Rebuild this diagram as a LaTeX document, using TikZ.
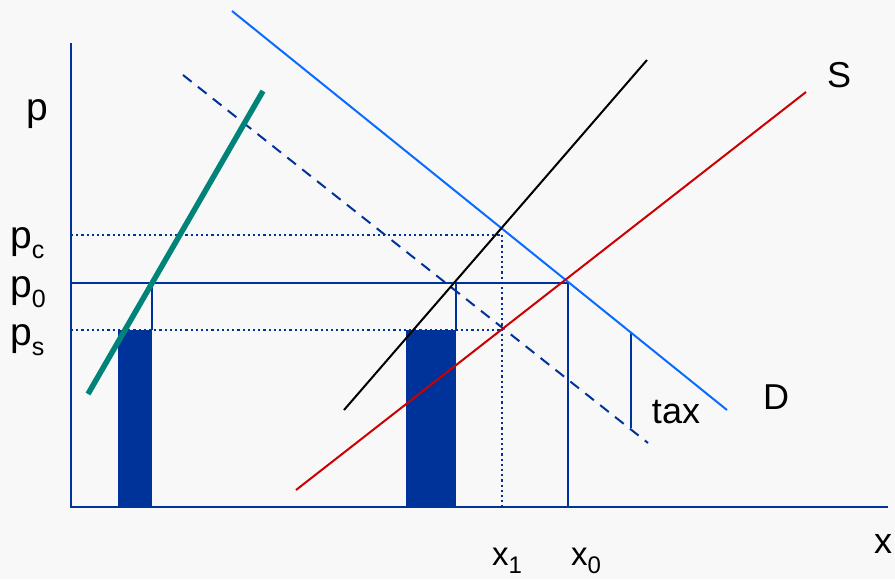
\documentclass[tikz,border=0pt]{standalone}
\usepackage{fontspec}
\setmainfont{Liberation Sans}
\newcommand{\psub}[1]{\raisebox{-10pt}{\fontsize{25}{27}\selectfont #1}}
\newcommand{\xsub}[1]{\raisebox{-8pt}{\fontsize{24}{26}\selectfont #1}}
\begin{document}
\begin{tikzpicture}[x=1pt,y=-1pt,
  lbl/.style={inner sep=0pt, anchor=base, font=\fontsize{36}{40}\selectfont},
  plbl/.style={inner sep=0pt, anchor=base west, font=\fontsize{39}{42}\selectfont},
  xlbl/.style={inner sep=0pt, anchor=base west, font=\fontsize{33}{36}\selectfont},
  dkblue/.style={draw=axisblue, line width=2pt},
  dotline/.style={draw=axisblue, line width=2.2pt, dash pattern=on 2.2pt off 3pt},
]
\definecolor{axisblue}{HTML}{003399}
\definecolor{demblue}{HTML}{0A6CFF}
\definecolor{supred}{HTML}{CC0000}
\definecolor{tealc}{HTML}{00847A}
\definecolor{bg}{HTML}{F8F8F8}
\fill[bg] (0,0) rectangle (895,579);
\useasboundingbox (0,0) rectangle (895,579);

% coordinates
\coordinate (O) at (71,507);
\coordinate (ytop) at (71,43);
\coordinate (xend) at (888,507);
\coordinate (pc0) at (71,235);
\coordinate (pc1) at (502,235);
\coordinate (x1b) at (502,507);
\coordinate (p00) at (71,283);
\coordinate (p01) at (568,283);
\coordinate (x0b) at (568,507);
\coordinate (ps0) at (71,330);
\coordinate (ps1) at (502,330);

% filled rectangles
\fill[axisblue] (118,330) rectangle (152,507);
\fill[axisblue] (406,330) rectangle (456,507);
\draw[dkblue, line width=1.6pt] (152,283) -- (152,330);
\draw[dkblue, line width=1.6pt] (456,283) -- (456,330);

% dotted / solid price lines
\draw[dotline] (pc0) -- (pc1);
\draw[dotline] (pc1) -- (x1b);
\draw[dotline] (ps0) -- (ps1);
\draw[dkblue] (p00) -- (p01) -- (x0b);

% tax
\coordinate (tax0) at (631,332);
\coordinate (tax1) at (631,428);
\draw[dkblue] (tax0) -- (tax1);

% curves
\coordinate (Da) at (232,11);
\coordinate (Db) at (727,410);
\draw[demblue, line width=2pt] (Da) -- (Db);
\coordinate (Dta) at (183,75);
\coordinate (Dtb) at (648,443);
\draw[axisblue, line width=2pt, dash pattern=on 11pt off 8pt] (Dta) -- (Dtb);
\coordinate (Ka) at (344,410);
\coordinate (Kb) at (647,60);
\draw[black, line width=2pt] (Ka) -- (Kb);
\coordinate (Sa) at (296,490);
\coordinate (Sb) at (806,92);
\draw[supred, line width=2pt] (Sa) -- (Sb);
\coordinate (Ta) at (88,394);
\coordinate (Tb) at (263,91);
\draw[tealc, line width=5.5pt] (Ta) -- (Tb);

% axes
\draw[axisblue, line width=2.4pt] (ytop) -- (O) -- (xend);

% labels
\node[plbl] (lp) at (26,120) {p};
\node[lbl] (lS) at (839,87) {S};
\node[lbl] (lD) at (776,409) {D};
\node[lbl] (ltax) at (676,423) {tax};
\node[plbl] (lpc) at (10,248) {p\psub{c}};
\node[plbl] (lp0) at (10,297) {p\psub{0}};
\node[plbl] (lps) at (10,345) {p\psub{s}};
\node[xlbl] (lx1) at (492,565) {x\xsub{1}};
\node[xlbl] (lx0) at (571,565) {x\xsub{0}};
\node[lbl] (lx) at (883,553) {x};
\end{tikzpicture}
\end{document}
